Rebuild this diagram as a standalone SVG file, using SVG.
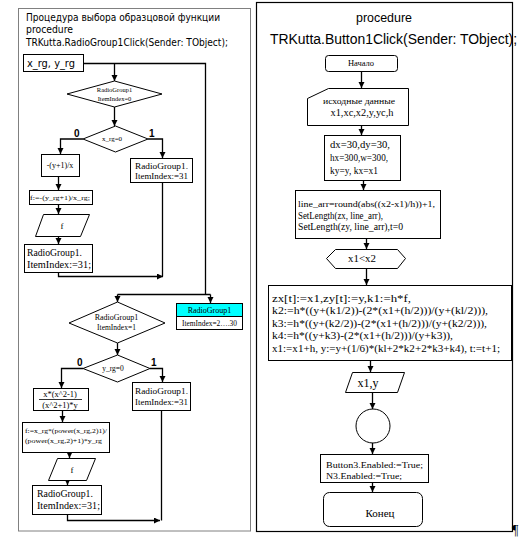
<svg xmlns="http://www.w3.org/2000/svg" width="521" height="542" viewBox="0 0 521 542">
<defs>
<marker id="ar" markerUnits="userSpaceOnUse" markerWidth="7" markerHeight="7" refX="6" refY="3" orient="auto">
<path d="M0,0 L6,3 L0,6 z" fill="#000"/>
</marker>
<style>
.sh{fill:#fff;stroke:#000;stroke-width:1}
.ln{fill:none;stroke:#000;stroke-width:1.3}
.ar{fill:none;stroke:#000;stroke-width:1.3;marker-end:url(#ar)}
.t{font-family:"Liberation Serif",serif;fill:#000}
.g{font-family:"DejaVu Sans",sans-serif;font-size:10.5px;fill:#000}
.a{font-family:"Liberation Sans",sans-serif;fill:#000}
.c{text-anchor:middle}
.lb{font-family:"Liberation Sans",sans-serif;font-size:10px;font-weight:bold}
</style>
</defs>
<rect width="521" height="542" fill="#fff"/>

<!-- panels -->
<rect id="leftPanel" x="18.5" y="8.5" width="232" height="522.5" fill="none" stroke="#808080" stroke-width="1"/>
<rect id="rightPanel" x="256.5" y="2.5" width="256" height="529" fill="none" stroke="#000" stroke-width="1.2"/>

<!-- left titles -->
<g id="leftTitle">
<text class="g" x="26" y="21" textLength="194" lengthAdjust="spacingAndGlyphs">Процедура выбора образцовой функции</text>
<text class="g" x="26" y="33" textLength="47" lengthAdjust="spacingAndGlyphs">procedure</text>
<text class="g" x="26" y="46" textLength="202" lengthAdjust="spacingAndGlyphs">TRKutta.RadioGroup1Click(Sender: TObject);</text>
</g>
<g id="xrg">
<rect class="sh" x="23.5" y="54.5" width="60" height="17"/>
<text class="g" x="27" y="67" textLength="48" lengthAdjust="spacingAndGlyphs">x_rg, y_rg</text>
</g>

<!-- connectors -->
<g id="connectors">
<polyline class="ln" points="83.5,63.5 205.5,63.5 205.5,294.5"/>
<line class="ar" x1="114.5" y1="63.5" x2="114.5" y2="81"/>
<line class="ar" x1="114.5" y1="107" x2="114.5" y2="126"/>
<polyline class="ar" points="83,139 60.5,139 60.5,154"/>
<polyline class="ar" points="148,139 162.5,139 162.5,158"/>
<line class="ar" x1="58.5" y1="176" x2="58.5" y2="190"/>
<line class="ar" x1="58.5" y1="204" x2="58.5" y2="214"/>
<line class="ar" x1="58.5" y1="236" x2="58.5" y2="244"/>
<polyline class="ar" points="58.5,272 58.5,276.5 163,276.5"/>
<line class="ln" x1="162.5" y1="182" x2="162.5" y2="276.5"/>
<line class="ln" x1="117.5" y1="294.5" x2="210.5" y2="294.5"/>
<line class="ar" x1="117.5" y1="294.5" x2="117.5" y2="302"/>
<line class="ar" x1="210.5" y1="294.5" x2="210.5" y2="303"/>
<line class="ar" x1="117.5" y1="343" x2="117.5" y2="355"/>
<polyline class="ar" points="83,368.5 61.5,368.5 61.5,388"/>
<polyline class="ar" points="150,368.5 162.5,368.5 162.5,382"/>
<line class="ar" x1="62.5" y1="410" x2="62.5" y2="422"/>
<line class="ar" x1="69.5" y1="452" x2="69.5" y2="458"/>
<line class="ar" x1="67.5" y1="480" x2="67.5" y2="485"/>
<polyline class="ar" points="67.5,514 67.5,520.5 160,520.5"/>
<line class="ln" x1="161.5" y1="410" x2="161.5" y2="520.5"/>
<line class="ar" x1="361.5" y1="71" x2="361.5" y2="88"/>
<line class="ar" x1="361.5" y1="125" x2="361.5" y2="135"/>
<line class="ar" x1="363.5" y1="180" x2="363.5" y2="190"/>
<line class="ar" x1="366.5" y1="238" x2="366.5" y2="249"/>
<line class="ar" x1="366.5" y1="268" x2="366.5" y2="285"/>
<line class="ar" x1="370.5" y1="360" x2="370.5" y2="372"/>
<line class="ar" x1="372.5" y1="392" x2="372.5" y2="409"/>
<line class="ar" x1="372.5" y1="443" x2="372.5" y2="454"/>
<line class="ar" x1="372.5" y1="482" x2="372.5" y2="492"/>
</g>

<!-- left nodes -->
<g id="d1">
<polygon class="sh" points="114.5,81 162,94 114.5,107 67,94"/>
<text class="t c" x="114.5" y="92" font-size="6.5">RadioGroup1</text>
<text class="t c" x="114.5" y="101" font-size="6.5">ItemIndex=0</text>
</g>
<g id="d2">
<polygon class="sh" points="115.5,126 148,139 115.5,152 83,139"/>
<text class="t c" x="112" y="141" font-size="7">x_rg=0</text>
<text class="lb" x="74" y="137">0</text>
<text class="lb" x="149" y="137">1</text>
</g>
<g id="b1">
<rect class="sh" x="41.5" y="154.5" width="38" height="22"/>
<text class="t c" x="60" y="168" font-size="8">-(y+1)/x</text>
</g>
<g id="b2">
<rect class="sh" x="130.5" y="158.5" width="62" height="24"/>
<text class="t" x="135" y="169" font-size="8.5" textLength="53" lengthAdjust="spacingAndGlyphs">RadioGroup1.</text>
<text class="t" x="135" y="179" font-size="8.5" textLength="53" lengthAdjust="spacingAndGlyphs">ItemIndex:=31</text>
</g>
<g id="b3">
<rect class="sh" x="29.5" y="190.5" width="63" height="14"/>
<text class="t c" x="60" y="200" font-size="7" textLength="60" lengthAdjust="spacingAndGlyphs">f:=-(y_rg+1)/x_rg;</text>
</g>
<g id="p1">
<polygon class="sh" points="43.5,214.5 89.5,214.5 80.5,236.5 35.5,236.5"/>
<text class="t c" x="62" y="229" font-size="9">f</text>
</g>
<g id="b4">
<rect class="sh" x="24.5" y="244.5" width="68" height="28"/>
<text class="t" x="27" y="256" font-size="9.5" textLength="55" lengthAdjust="spacingAndGlyphs">RadioGroup1.</text>
<text class="t" x="27" y="268" font-size="9.5" textLength="64" lengthAdjust="spacingAndGlyphs">ItemIndex:=31;</text>
</g>
<g id="cyan">
<rect x="176.5" y="303.5" width="66" height="13" fill="#00ffff" stroke="#000"/>
<rect x="176.5" y="316.5" width="66" height="13" fill="#fff" stroke="#000"/>
<text class="t c" x="209.5" y="313" font-size="8">RadioGroup1</text>
<text class="t c" x="209.5" y="326" font-size="7.5" textLength="55" lengthAdjust="spacingAndGlyphs">ItemIndex=2….30</text>
</g>
<g id="d3">
<polygon class="sh" points="117.5,302 165,323 117.5,343 69,323"/>
<text class="t c" x="116.5" y="320" font-size="8">RadioGroup1</text>
<text class="t c" x="116.5" y="330" font-size="7.5">ItemIndex=1</text>
</g>
<g id="d4">
<polygon class="sh" points="117.5,355 150,368.5 117.5,382 83,368.5"/>
<text class="t c" x="113" y="371" font-size="7.5">y_rg=0</text>
<text class="lb" x="77" y="366">0</text>
<text class="lb" x="151" y="366">1</text>
</g>
<g id="b5">
<rect class="sh" x="33.5" y="388.5" width="55" height="22"/>
<text class="t c" x="60" y="397" font-size="8.5">x*(x^2-1)</text>
<line x1="39" y1="399.5" x2="82" y2="399.5" stroke="#000" stroke-width="0.8"/>
<text class="t c" x="60" y="408" font-size="8.5">(x^2+1)*y</text>
</g>
<g id="b6">
<rect class="sh" x="132.5" y="382.5" width="58" height="28"/>
<text class="t" x="135" y="394" font-size="9" textLength="53" lengthAdjust="spacingAndGlyphs">RadioGroup1.</text>
<text class="t" x="135" y="405" font-size="9" textLength="53" lengthAdjust="spacingAndGlyphs">ItemIndex:=31</text>
</g>
<g id="b7">
<rect class="sh" x="22.5" y="422.5" width="87" height="30"/>
<text class="t" x="25" y="433" font-size="7" textLength="82" lengthAdjust="spacingAndGlyphs">f:=x_rg*(power(x_rg,2)1)/</text>
<text class="t" x="25" y="443" font-size="7" textLength="77" lengthAdjust="spacingAndGlyphs">(power(x_rg,2)+1)*y_rg</text>
</g>
<g id="p2">
<polygon class="sh" points="57.5,458.5 95.5,458.5 86.5,480.5 48.5,480.5"/>
<text class="t c" x="72" y="473" font-size="9">f</text>
</g>
<g id="b8">
<rect class="sh" x="32.5" y="485.5" width="69" height="29"/>
<text class="t" x="37" y="497" font-size="9.5" textLength="56" lengthAdjust="spacingAndGlyphs">RadioGroup1.</text>
<text class="t" x="37" y="509" font-size="9.5" textLength="63" lengthAdjust="spacingAndGlyphs">ItemIndex:=31;</text>
</g>

<!-- right panel -->
<g id="rightTitle">
<text class="a c" x="384" y="22" font-size="13" textLength="56" lengthAdjust="spacingAndGlyphs">procedure</text>
<text class="a" x="270" y="44" font-size="14" textLength="247" lengthAdjust="spacingAndGlyphs">TRKutta.Button1Click(Sender: TObject);</text>
</g>
<g id="start">
<rect class="sh" x="325.5" y="55.5" width="72" height="16" rx="3"/>
<text class="t c" x="361" y="66" font-size="8.5">Начало</text>
</g>
<g id="input">
<polygon class="sh" points="328.5,88.5 408.5,88.5 408.5,125.5 307.5,125.5 307.5,98.5"/>
<text class="t c" x="359" y="104" font-size="8" textLength="72" lengthAdjust="spacingAndGlyphs">исходные данные</text>
<text class="t c" x="362" y="116" font-size="9.5" textLength="63" lengthAdjust="spacingAndGlyphs">x1,xc,x2,y,yc,h</text>
</g>
<g id="init">
<rect class="sh" x="324.5" y="135.5" width="76" height="45"/>
<text class="t" x="330" y="148" font-size="9.5" textLength="60" lengthAdjust="spacingAndGlyphs">dx=30,dy=30,</text>
<text class="t" x="330" y="161" font-size="9.5" textLength="58" lengthAdjust="spacingAndGlyphs">hx=300,w=300,</text>
<text class="t" x="330" y="174" font-size="9.5" textLength="48" lengthAdjust="spacingAndGlyphs">ky=y, kx=x1</text>
</g>
<g id="arr">
<rect class="sh" x="295.5" y="190.5" width="145" height="48"/>
<text class="t" x="298" y="207" font-size="9" textLength="137" lengthAdjust="spacingAndGlyphs">line_arr=round(abs((x2-x1)/h))+1,</text>
<text class="t" x="298" y="219" font-size="10" textLength="85" lengthAdjust="spacingAndGlyphs">SetLength(zx, line_arr),</text>
<text class="t" x="298" y="230" font-size="10" textLength="105" lengthAdjust="spacingAndGlyphs">SetLength(zy, line_arr),t=0</text>
</g>
<g id="loop">
<polygon class="sh" points="326.5,258.5 335.5,249.5 397.5,249.5 405.5,258.5 397.5,268.5 335.5,268.5"/>
<text class="t c" x="362" y="262" font-size="11" textLength="28" lengthAdjust="spacingAndGlyphs">x1&lt;x2</text>
</g>
<g id="calc">
<rect class="sh" x="268.5" y="285.5" width="243" height="75"/>
<text class="t" x="272" y="302" font-size="10" textLength="139" lengthAdjust="spacingAndGlyphs">zx[t]:=x1,zy[t]:=y,k1:=h*f,</text>
<text class="t" x="272" y="314" font-size="10" textLength="216" lengthAdjust="spacingAndGlyphs">k2:=h*((y+(k1/2))-(2*(x1+(h/2)))/(y+(kl/2))),</text>
<text class="t" x="272" y="327" font-size="10" textLength="215" lengthAdjust="spacingAndGlyphs">k3:=h*((y+(k2/2))-(2*(x1+(h/2)))/(y+(k2/2))),</text>
<text class="t" x="272" y="339" font-size="10" textLength="181" lengthAdjust="spacingAndGlyphs">k4:=h*((y+k3)-(2*(x1+(h/2)))/(y+k3)),</text>
<text class="t" x="272" y="352" font-size="10" textLength="228" lengthAdjust="spacingAndGlyphs">x1:=x1+h, y:=y+(1/6)*(kl+2*k2+2*k3+k4), t:=t+1;</text>
</g>
<g id="out">
<polygon class="sh" points="352.5,372.5 404.5,372.5 397.5,392.5 345.5,392.5"/>
<text class="t c" x="368" y="387" font-size="12" textLength="21" lengthAdjust="spacingAndGlyphs">x1,y</text>
</g>
<g id="conn">
<circle class="sh" cx="373" cy="426" r="17"/>
</g>
<g id="enable">
<rect class="sh" x="320.5" y="454.5" width="108" height="28"/>
<text class="t" x="326" y="468" font-size="9" textLength="97" lengthAdjust="spacingAndGlyphs">Button3.Enabled:=True;</text>
<text class="t" x="326" y="479" font-size="9" textLength="76" lengthAdjust="spacingAndGlyphs">N3.Enabled:=True;</text>
</g>
<g id="end">
<rect class="sh" x="323.5" y="492.5" width="99" height="34" rx="6"/>
<text class="t c" x="380" y="517" font-size="11">Конец</text>
</g>
<text class="t" x="512" y="535" font-size="14">¶</text>
</svg>
